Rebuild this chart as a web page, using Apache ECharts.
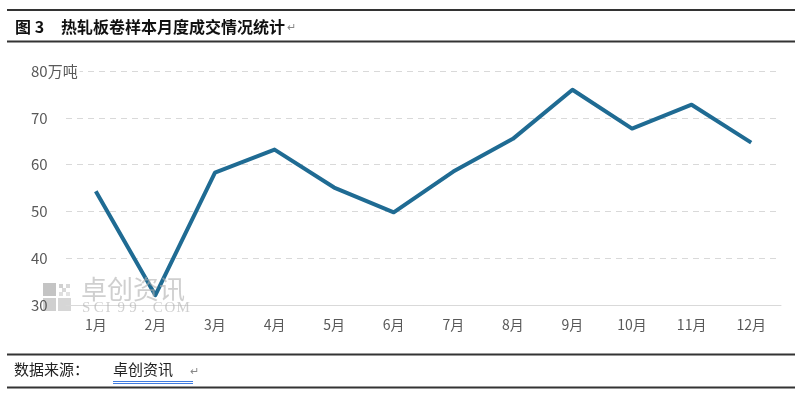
<!DOCTYPE html>
<html><head><meta charset="utf-8">
<script src="https://cdn.jsdelivr.net/npm/echarts@6/dist/echarts.min.js"></script>
<style>html,body{margin:0;padding:0;background:#fff}#c{width:808px;height:400px}</style>
</head><body><div id="c"></div>
<script>
const categories = ['1月','2月','3月','4月','5月','6月','7月','8月','9月','10月','11月','12月'];
const volumes = [54.3, 32.1, 58.3, 63.2, 55.1, 49.8, 58.5, 65.5, 76.0, 67.7, 72.8, 64.7];
const yTicks = [30, 40, 50, 60, 70, 80];
const unitLabel = '万吨';
const titleNo = '图 3';
const titleText = '热轧板卷样本月度成交情况统计';
const sourceLabel = '数据来源：';
const sourceName = '卓创资讯';
const watermarkSite = 'SCI99.COM';

const chart = echarts.init(document.getElementById('c'));
const cjk = '"Noto Sans CJK SC", sans-serif';
const siteChars = watermarkSite.split('').map((ch, i) => ({
  type: 'text', left: 82 + i * 11.8, top: 301, z: 10,
  style: {text: ch, font: '15px "Liberation Serif", serif', fill: 'rgba(175,175,175,0.6)'}
}));
chart.setOption({
  animation: false,
  backgroundColor: '#fff',
  grid: {left: 66, right: 27, top: 71, bottom: 95},
  xAxis: {
    type: 'category', data: categories, boundaryGap: true,
    axisLine: {lineStyle: {color: '#d9d9d9', width: 1}},
    axisTick: {show: false},
    axisLabel: {color: '#595959', fontSize: 14, margin: 13, fontFamily: cjk}
  },
  yAxis: {
    type: 'value', min: yTicks[0], max: yTicks[yTicks.length-1], interval: 10,
    axisLine: {show: false}, axisTick: {show: false},
    splitLine: {lineStyle: {color: '#d9d9d9', type: [6, 5], width: 1}},
    axisLabel: {
      color: '#595959', fontSize: 15, align: 'left', margin: 35, fontFamily: cjk,
      formatter: v => v === yTicks[yTicks.length-1] ? '{u|' + v + unitLabel + '}' : String(v),
      rich: {u: {color: '#595959', fontSize: 15, fontFamily: cjk, backgroundColor: '#fff', padding: [2, 2, 2, 0]}}
    }
  },
  series: [{
    type: 'line', data: volumes, symbol: 'none',
    lineStyle: {color: '#1f6b93', width: 4, join: 'round'},
    z: 3
  }],
  graphic: [
    {type: 'line', shape: {x1: 7, y1: 10, x2: 795, y2: 10}, style: {stroke: '#333', lineWidth: 2}},
    {type: 'line', shape: {x1: 7, y1: 41.5, x2: 795, y2: 41.5}, style: {stroke: '#333', lineWidth: 2}},
    {type: 'text', left: 15, top: 19, style: {text: titleNo, font: 'bold 16px ' + cjk, fill: '#111'}},
    {type: 'text', left: 61, top: 19, style: {text: titleText, font: 'bold 16px ' + cjk, fill: '#111'}},
    {type: 'text', left: 287, top: 22, style: {text: '↵', font: '11px sans-serif', fill: '#888'}},
    {type: 'line', shape: {x1: 7, y1: 354.5, x2: 795, y2: 354.5}, style: {stroke: '#333', lineWidth: 2}},
    {type: 'line', shape: {x1: 7, y1: 387.5, x2: 795, y2: 387.5}, style: {stroke: '#333', lineWidth: 2}},
    {type: 'text', left: 14, top: 362, style: {text: sourceLabel, font: '15px ' + cjk, fill: '#222'}},
    {type: 'text', left: 113, top: 362, style: {text: sourceName, font: '15px ' + cjk, fill: '#222'}},
    {type: 'text', left: 190, top: 366, style: {text: '↵', font: '11px sans-serif', fill: '#888'}},
    {type: 'line', shape: {x1: 113, y1: 381.5, x2: 193, y2: 381.5}, style: {stroke: '#3f7be0', lineWidth: 1}},
    {type: 'line', shape: {x1: 113, y1: 383.5, x2: 193, y2: 383.5}, style: {stroke: '#3f7be0', lineWidth: 1}},
    // watermark
    {type: 'group', left: 43, top: 283, z: 10, children: [
      {type: 'rect', shape: {x: 0, y: 0, width: 13, height: 13}, style: {fill: '#c4c4c4'}},
      {type: 'rect', shape: {x: 0, y: 15, width: 13, height: 13}, style: {fill: '#cfcfcf'}},
      {type: 'rect', shape: {x: 15, y: 15, width: 13, height: 13}, style: {fill: '#d6d6d6'}},
      {type: 'rect', shape: {x: 16, y: 1, width: 4, height: 4}, style: {fill: '#d0d0d0'}},
      {type: 'rect', shape: {x: 23, y: 1, width: 4, height: 4}, style: {fill: '#d8d8d8'}},
      {type: 'rect', shape: {x: 19, y: 5, width: 4, height: 4}, style: {fill: '#d8d8d8'}},
      {type: 'rect', shape: {x: 16, y: 9, width: 4, height: 4}, style: {fill: '#dedede'}},
      {type: 'rect', shape: {x: 23, y: 9, width: 4, height: 4}, style: {fill: '#e2e2e2'}}
    ]},
    {type: 'text', left: 81, top: 276, z: 10, style: {text: '卓创资讯', font: '26px ' + cjk, fill: 'rgba(175,175,175,0.6)'}}
  ].concat(siteChars)
});
</script></body></html>
